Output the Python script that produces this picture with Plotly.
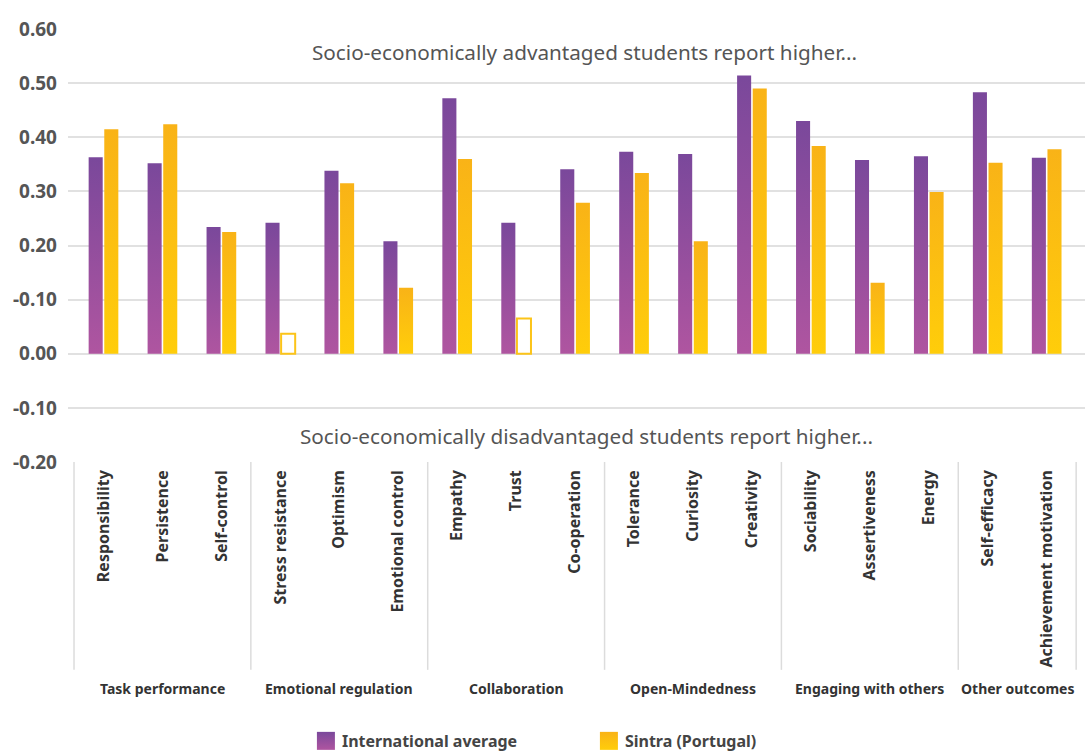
import plotly.graph_objects as go

categories = ["Responsibility", "Persistence", "Self-control",
              "Stress resistance", "Optimism", "Emotional control",
              "Empathy", "Trust", "Co-operation",
              "Tolerance", "Curiosity", "Creativity",
              "Sociability", "Assertiveness", "Energy",
              "Self-efficacy", "Achievement motivation"]
groups = ["Task performance", "Emotional regulation", "Collaboration",
          "Open-Mindedness", "Engaging with others", "Other outcomes"]
group_sizes = [3, 3, 3, 3, 3, 2]
international = [0.363, 0.352, 0.234, 0.242, 0.338, 0.208, 0.472, 0.242, 0.341,
                 0.373, 0.369, 0.514, 0.430, 0.358, 0.365, 0.483, 0.362]
sintra = [0.415, 0.424, 0.225, 0.037, 0.315, 0.122, 0.360, 0.065, 0.279,
          0.334, 0.208, 0.490, 0.384, 0.131, 0.299, 0.353, 0.378]
sintra_significant = [True, True, True, False, True, True, True, False, True,
                      True, True, True, True, True, True, True, True]
y_tickvals = [-0.2, -0.1, 0.0, 0.1, 0.2, 0.3, 0.4, 0.5, 0.6]
y_ticktext = ["-0.20", "-0.10", "0.00", "-0.10", "0.20", "0.30", "0.40", "0.50", "0.60"]
note_top = "Socio-economically advantaged students report higher..."
note_bottom = "Socio-economically disadvantaged students report higher..."

PURPLE = "#9450a0"
YELLOW = "#fdbf12"
FONT = "Noto Sans"

x = list(range(len(categories)))
xmin, xmax = -0.602, len(categories) - 0.5 + 0.15

fig = go.Figure()
fig.add_trace(go.Bar(
    x=x, y=international, name="<b>International average</b>",
    marker=dict(color=PURPLE, line=dict(width=0)),
))
fig.add_trace(go.Bar(
    x=x, y=sintra, name="<b>Sintra (Portugal)</b>",
    marker=dict(
        color=[YELLOW if s else "#ffffff" for s in sintra_significant],
        line=dict(color=[YELLOW if s else "#fcc419" for s in sintra_significant],
                  width=[0 if s else 2 for s in sintra_significant]),
    ),
))

def px(v):
    return (v - xmin) / (xmax - xmin)

shapes = []
edges = [-0.5]
for g in group_sizes:
    edges.append(edges[-1] + g)
for e in edges:
    shapes.append(dict(type="line", xref="paper", yref="paper",
                       x0=px(e), x1=px(e), y0=0, y1=-0.48,
                       line=dict(color="#dcdcdc", width=1.5)))

annotations = [
    dict(text=note_top, xref="paper", yref="y", x=0.508, y=0.557,
         showarrow=False, font=dict(family=FONT, size=20.7, color="#555555")),
    dict(text=note_bottom, xref="paper", yref="y", x=0.510, y=-0.152,
         showarrow=False, font=dict(family=FONT, size=20.7, color="#555555")),
]
for i, g in enumerate(groups):
    center = (edges[i] + edges[i + 1]) / 2
    annotations.append(dict(text="<b>%s</b>" % g, xref="x", yref="paper",
                            x=center, y=-0.524, yanchor="middle", showarrow=False,
                            font=dict(family=FONT, size=14, color="#333333")))

fig.update_layout(
    template="none",
    width=1085, height=751,
    margin=dict(l=68, r=0, t=29, b=289, pad=0, autoexpand=False),
    paper_bgcolor="white", plot_bgcolor="white",
    barmode="group", bargap=0.47, bargroupgap=0.1,
    font=dict(family=FONT, color="#333333"),
    showlegend=True,
    legend=dict(orientation="h", x=0.230, xanchor="left", y=-0.605, yanchor="top",
                font=dict(family=FONT, size=16, color="#444444"),
                entrywidth=238, entrywidthmode="pixels", itemwidth=30,
                traceorder="normal", bgcolor="rgba(0,0,0,0)"),
    xaxis=dict(range=[xmin, xmax], tickmode="array", tickvals=x,
               ticktext=["<b>%s</b>" % c for c in categories],
               tickangle=-90, showgrid=False, zeroline=False, showline=False,
               automargin=False, ticks="", ticklabelstandoff=4,
               tickfont=dict(family=FONT, size=16, color="#333333")),
    yaxis=dict(range=[-0.2, 0.6], tickmode="array", tickvals=y_tickvals,
               ticktext=["<b>%s</b>" % t for t in y_ticktext],
               showgrid=True, gridcolor="#e1e1e1", gridwidth=2,
               zeroline=True, zerolinecolor="#e1e1e1", zerolinewidth=2,
               automargin=False, showline=False, ticks="", ticklabelstandoff=10,
               tickfont=dict(family=FONT, size=19, color="#555555")),
    shapes=shapes, annotations=annotations,
)

post = """
document.body.style.margin = '0';
document.body.style.padding = '0';
var gd = document.getElementById('{plot_id}');
function addGrad(defs, id, c1, c2) {
  if (document.getElementById(id)) return;
  var ns = 'http://www.w3.org/2000/svg';
  var lg = document.createElementNS(ns, 'linearGradient');
  lg.setAttribute('id', id);
  lg.setAttribute('x1', '0'); lg.setAttribute('y1', '0');
  lg.setAttribute('x2', '0'); lg.setAttribute('y2', '1');
  var s1 = document.createElementNS(ns, 'stop');
  s1.setAttribute('offset', '0'); s1.setAttribute('stop-color', c1);
  var s2 = document.createElementNS(ns, 'stop');
  s2.setAttribute('offset', '1'); s2.setAttribute('stop-color', c2);
  lg.appendChild(s1); lg.appendChild(s2);
  defs.appendChild(lg);
}
function applyGrad() {
  var svg = gd.querySelector('svg.main-svg');
  if (!svg) return;
  var defs = svg.querySelector('defs');
  if (!defs) { defs = document.createElementNS('http://www.w3.org/2000/svg', 'defs'); svg.insertBefore(defs, svg.firstChild); }
  addGrad(defs, 'gradPurple', '#7a489b', '#af55a0');
  addGrad(defs, 'gradYellow', '#f9b317', '#ffcd0a');
  var ids = ['gradPurple', 'gradYellow'];
  var traces = gd.querySelectorAll('.barlayer .trace.bars');
  traces.forEach(function(t, i) {
    t.querySelectorAll('g.point path').forEach(function(p) {
      var f = p.style.fill;
      if (f && f.indexOf('255, 255, 255') === -1) { p.style.fill = 'url(#' + ids[i] + ')'; }
    });
  });
  var lt = gd.querySelectorAll('.legend .traces');
  lt.forEach(function(t, i) {
    t.querySelectorAll('.legendpoints path').forEach(function(p) {
      p.style.fill = 'url(#' + ids[i] + ')';
      p.setAttribute('transform', 'translate(24,0) scale(1.5)');
    });
  });
}
applyGrad();
gd.on('plotly_afterplot', applyGrad);
"""

fig.write_html("out.html", post_script=post, config={"displayModeBar": False})
